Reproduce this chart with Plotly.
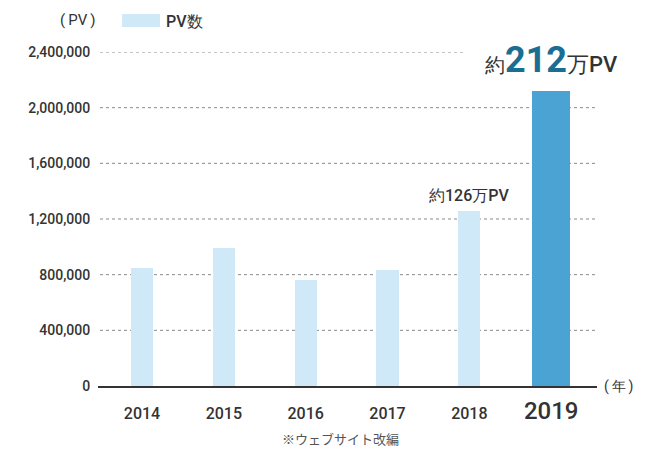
import plotly.graph_objects as go

years = ["2014", "2015", "2016", "2017", "2018", "2019"]
pv = [847000, 991000, 761000, 833000, 1257000, 2118000]
bar_colors = ["#d0e9f9", "#d0e9f9", "#d0e9f9", "#d0e9f9", "#d0e9f9", "#4ba3d4"]
bar_widths = [0.27, 0.27, 0.27, 0.27, 0.27, 0.465]
ytick_vals = [0, 400000, 800000, 1200000, 1600000, 2000000, 2400000]
ytick_text = ["0", "400,000", "800,000", "1,200,000", "1,600,000", "2,000,000", "2,400,000"]
xtick_text = ["2014", "2015", "2016", "2017", "2018",
              "<span style='font-size:24px'>2019</span>"]

TXT = "#333333"
FONT = "Roboto"

# page body has an 8px margin; plot area targets window px x 98..597, y 52..386
OFF = 8
L, R, T, B = 98, 597, 52, 386
W, H = 669 - OFF, 450 - OFF


def px_x(x):
    return (x - L) / (R - L)


def px_y(y):
    return (B - y) / (B - T)


fig = go.Figure()
fig.add_trace(go.Bar(
    x=list(range(len(years))), y=pv, width=bar_widths,
    marker=dict(color=bar_colors, line=dict(width=0)),
    showlegend=False, hoverinfo="skip",
))

shapes = []
for v in ytick_vals[1:]:
    x1 = px_x(466) if v == 2400000 else 1.0
    shapes.append(dict(type="line", xref="paper", yref="y", x0=px_x(100), x1=x1,
                       y0=v, y1=v, layer="below",
                       line=dict(color="#8a8a8a", width=1, dash="3px,3px")))
shapes.append(dict(type="rect", xref="paper", yref="paper",
                   x0=px_x(122), x1=px_x(160), y0=px_y(27), y1=px_y(14),
                   fillcolor="#d0e9f9", line=dict(width=0)))

annotations = [
    dict(text="(\u2009PV\u2009)", xref="paper", yref="paper", x=px_x(98), y=px_y(20),
         xanchor="right", yanchor="middle", showarrow=False,
         font=dict(family=FONT, size=15, color=TXT)),
    dict(text="PV数", xref="paper", yref="paper", x=px_x(164), y=px_y(21),
         xanchor="left", yanchor="middle", showarrow=False,
         font=dict(family=FONT, size=16, color=TXT, weight=500)),
    dict(text="(\u2009年\u2009)", xref="paper", yref="y", x=px_x(602), y=0,
         xanchor="left", yanchor="middle", showarrow=False,
         font=dict(family=FONT, size=14, color=TXT)),
    dict(text="※ウェブサイト改編", xref="paper", yref="paper", x=px_x(340),
         y=px_y(438), xanchor="center", yanchor="middle", showarrow=False,
         font=dict(family="Noto Sans CJK JP", size=13, color="#555555")),
    dict(text="約126万PV", xref="x", yref="y", x=4, y=pv[4],
         xanchor="center", yanchor="bottom", yshift=4, showarrow=False,
         font=dict(family=FONT, size=16, color=TXT, weight=500)),
    dict(text="約<span style='font-size:36px;color:#1a6e93'><b>212</b></span>"
              "<span style='font-size:22px'>万PV</span>",
         xref="x", yref="y", x=5, y=pv[5],
         xanchor="center", yanchor="bottom", yshift=8, showarrow=False,
         font=dict(family=FONT, size=20, color=TXT, weight=500)),
]

fig.update_layout(
    width=W, height=H,
    margin=dict(l=L - OFF, r=W - (R - OFF), t=T - OFF, b=H - (B - OFF)),
    paper_bgcolor="white", plot_bgcolor="white",
    shapes=shapes, annotations=annotations,
    bargap=0,
    xaxis=dict(range=[-0.538, 5.56], tickvals=list(range(len(years))),
               ticktext=xtick_text, showgrid=False, zeroline=False,
               showline=True, linecolor="#333333", linewidth=2,
               ticks="outside", ticklen=12, tickcolor="rgba(0,0,0,0)",
               tickfont=dict(family=FONT, size=16, color=TXT, weight=500),
               fixedrange=True),
    yaxis=dict(range=[0, 2400000], tickvals=ytick_vals, ticktext=ytick_text,
               showgrid=False, zeroline=False, showline=False,
               ticks="outside", ticklen=4, tickcolor="rgba(0,0,0,0)",
               tickfont=dict(family=FONT, size=14, color=TXT, weight=500),
               fixedrange=True),
)

fig.write_html("out.html")
